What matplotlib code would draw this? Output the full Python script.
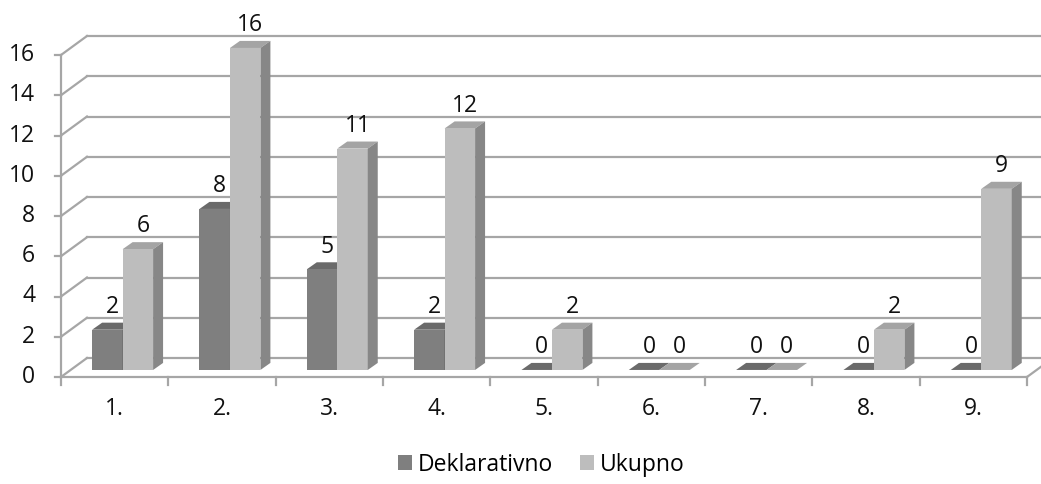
"""
Stupčasti grafikon s 3D izgledom (Deklarativno / Ukupno po pitanjima)
"""
import matplotlib
matplotlib.use("Agg")
import matplotlib.pyplot as plt
from matplotlib.patches import Polygon, Rectangle

# Podaci
categories = ['1.', '2.', '3.', '4.', '5.', '6.', '7.', '8.', '9.']
deklarativno = [2, 8, 5, 2, 0, 0, 0, 0, 0]
ukupno = [6, 16, 11, 12, 2, 0, 0, 2, 9]
y_ticks = [0, 2, 4, 6, 8, 10, 12, 14, 16]
series_names = ['Deklarativno', 'Ukupno']

# Boje (front, top, side)
dark = ('#7f7f7f', '#6a6a6a', '#5f5f5f')
light = ('#bdbdbd', '#a4a4a4', '#878787')
grid_color = '#a6a6a6'
fs = 16.5

plt.rcParams['font.family'] = ['Open Sans', 'DejaVu Sans']

fig = plt.figure(figsize=(10.41, 4.84), dpi=100)
ax = fig.add_axes([61 / 1041, 107 / 484, 966 / 1041, 322 / 484])
ax.set_xlim(0, len(categories))
ax.set_ylim(0, 16)
ax.axis('off')

# dubina (u jedinicama osi)
back_dx, back_dy = 0.242, 0.944
bar_off_dx, bar_off_dy = 0.09, 0.35
bar_dep_dx, bar_dep_dy = 0.093, 0.35
bar_w = 0.284
pair_start = 0.2

# mreža: dijagonala na lijevom zidu + vodoravna linija na stražnjem zidu
for v in y_ticks:
    ax.plot([0, back_dx], [v, v + back_dy], color=grid_color, lw=1.6,
            clip_on=False, zorder=1)
    ax.plot([back_dx, len(categories) + back_dx + 0.2], [v + back_dy] * 2,
            color=grid_color, lw=1.6, clip_on=False, zorder=1)
    ax.plot([-0.055, 0], [v, v], color=grid_color, lw=1.6, clip_on=False)
    ax.text(-0.24, v, str(v), ha='right', va='center', fontsize=fs,
            color='#111111')

# prednja os y i os x
ax.plot([0, 0], [0, 16], color=grid_color, lw=1.6, clip_on=False, zorder=1)
ax.plot([0, len(categories)], [0, 0], color=grid_color, lw=1.6, clip_on=False,
        zorder=1)
ax.plot([len(categories), len(categories) + back_dx],
        [0, back_dy], color=grid_color, lw=1.6, clip_on=False, zorder=1)
for i in range(len(categories) + 1):
    ax.plot([i, i], [0, -0.4], color=grid_color, lw=1.6, clip_on=False)
for i, c in enumerate(categories):
    ax.text(i + 0.5, -1.6, c, ha='center', va='center', fontsize=fs,
            color='#111111')


def draw_bar(x0, h, cols, z):
    fx = x0 + bar_off_dx
    fy = bar_off_dy
    ax.add_patch(Polygon([(fx, fy + h), (fx + bar_w, fy + h),
                          (fx + bar_w + bar_dep_dx, fy + h + bar_dep_dy),
                          (fx + bar_dep_dx, fy + h + bar_dep_dy)],
                         closed=True, facecolor=cols[1], edgecolor='none',
                         clip_on=False, zorder=z))
    if h > 0:
        ax.add_patch(Rectangle((fx, fy), bar_w, h, facecolor=cols[0],
                               edgecolor='none', clip_on=False, zorder=z))
        ax.add_patch(Polygon([(fx + bar_w, fy), (fx + bar_w, fy + h),
                              (fx + bar_w + bar_dep_dx, fy + h + bar_dep_dy),
                              (fx + bar_w + bar_dep_dx, fy + bar_dep_dy)],
                             closed=True, facecolor=cols[2], edgecolor='none',
                             clip_on=False, zorder=z))
    ax.annotate(str(h), (fx + bar_w / 2 + bar_dep_dx / 2, fy + h + bar_dep_dy),
                xytext=(0, 7), textcoords='offset points', ha='center',
                va='baseline', fontsize=fs, color='#111111',
                annotation_clip=False)


for i in range(len(categories)):
    draw_bar(i + pair_start, deklarativno[i], dark, 3)
    draw_bar(i + pair_start + bar_w, ukupno[i], light, 4)

# legenda
handles = [Rectangle((0, 0), 1, 1, facecolor=dark[0]),
           Rectangle((0, 0), 1, 1, facecolor=light[0])]
fig.legend(handles, series_names, loc='center', bbox_to_anchor=(0.52, 0.04),
           ncol=2, frameon=False, fontsize=fs, handlelength=0.6,
           handleheight=0.6, handletextpad=0.25, columnspacing=1.2)

fig.savefig('out.png', dpi=100)
